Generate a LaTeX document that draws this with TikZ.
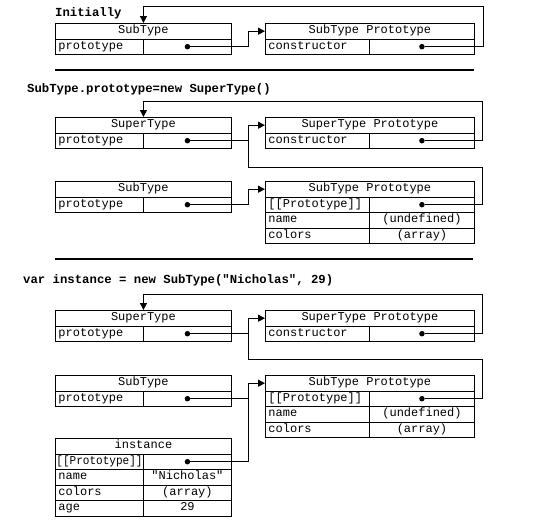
\documentclass[tikz,border=0pt]{standalone}
\usepackage{fontspec}
\usepackage{graphicx}
\usetikzlibrary{arrows.meta}
\newfontfamily\monoface{Liberation Mono}
\newcommand\codefont{\monoface\fontsize{12}{14}\selectfont}
\newcommand\codebold{\monoface\bfseries\fontsize{12.3}{14}\selectfont}
\tikzset{
  cell/.style={draw, line width=0.9pt, inner sep=0pt, minimum height=15.5pt, text height=8pt, text depth=2.5pt, font=\codefont, anchor=north west},
  hdrL/.style={cell, minimum width=176pt}, hdrR/.style={cell, minimum width=209pt},
  keyL/.style={cell, text width=82pt, inner xsep=3pt, align=left}, valL/.style={cell, minimum width=88pt},
  keyR/.style={cell, text width=98pt, inner xsep=3pt, align=left}, valR/.style={cell, minimum width=105pt},
  dot/.style={circle, fill, inner sep=0pt, minimum size=5.5pt},
  wire/.style={line width=0.9pt},
  ptr/.style={wire, -{Triangle[length=7pt, width=7pt]}},
  title/.style={font=\codebold, anchor=base west, inner sep=0pt},
  rule/.style={line width=1.1pt},
}

\begin{document}
\begin{tikzpicture}[x=1pt, y=-1pt]
    \useasboundingbox (0,0) rectangle (553,525);
    \coordinate (jx) at (248,0);
    % initially
    \node[title] (h1) at (55,16) {Initially};
    \node[hdrL] (st1h) at (55,23) {SubType};
    \node[keyL] (st1k) at (55,38.5) {prototype};
    \node[valL] (st1v) at (143,38.5) {};
    \node[dot] (d1) at (st1v.center) {};
    \node[hdrR] (sp1h) at (265,23) {SubType Prototype};
    \node[keyR] (sp1k) at (265,38.5) {constructor};
    \node[valR] (sp1v) at (369,38.5) {};
    \node[dot] (c1) at (sp1v.center) {};
    \coordinate (top1) at (483,6);
    \draw[ptr] (d1) -- (d1 -| jx) |- (sp1h.west);
    \draw[ptr] (c1) -| (top1) -| (st1h.north);
    \draw[rule] (55,70) -- (474,70);
    % SubType.prototype = new SuperType()
    \node[title] (h2) at (27,92) {SubType.prototype=new SuperType()};
    \node[hdrL] (su2h) at (55,117) {SuperType};
    \node[keyL] (su2k) at (55,132.5) {prototype};
    \node[valL] (su2v) at (143,132.5) {};
    \node[dot] (d2) at (su2v.center) {};
    \node[hdrR] (spp2h) at (265,117) {SuperType Prototype};
    \node[keyR] (spp2k) at (265,132.5) {constructor};
    \node[valR] (spp2v) at (369,132.5) {};
    \node[dot] (c2) at (spp2v.center) {};
    \node[hdrL] (sb2h) at (55,181) {SubType};
    \node[keyL] (sb2k) at (55,196.5) {prototype};
    \node[valL] (sb2v) at (143,196.5) {};
    \node[dot] (d3) at (sb2v.center) {};
    \node[hdrR] (sbp2h) at (265,181) {SubType Prototype};
    \node[keyR] (sbp2k) at (265,196.5) {[[Prototype]]};
    \node[valR] (sbp2v) at (369,196.5) {};
    \node[dot] (p2) at (sbp2v.center) {};
    \node[keyR] (sbp2n) at (265,212) {name};
    \node[valR] (sbp2nv) at (369,212) {(undefined)};
    \node[keyR] (sbp2c) at (265,227.5) {colors};
    \node[valR] (sbp2cv) at (369,227.5) {(array)};
    \coordinate (top2) at (482,101);
    \coordinate (low2) at (482,167);
    \draw[ptr] (d2) -- (d2 -| jx) |- (spp2h.west);
    \draw[wire] (p2) -| (low2) -| (d2 -| jx);
    \draw[ptr] (c2) -| (top2) -| (su2h.north);
    \draw[ptr] (d3) -- (d3 -| jx) |- (sbp2h.west);
    \draw[rule] (55,259) -- (473,259);
    % var instance = new SubType(...)
    \node[title] (h3) at (23,283) {var instance = new SubType("Nicholas", 29)};
    \node[hdrL] (su3h) at (55,310) {SuperType};
    \node[keyL] (su3k) at (55,325.5) {prototype};
    \node[valL] (su3v) at (143,325.5) {};
    \node[dot] (d4) at (su3v.center) {};
    \node[hdrR] (spp3h) at (265,310) {SuperType Prototype};
    \node[keyR] (spp3k) at (265,325.5) {constructor};
    \node[valR] (spp3v) at (369,325.5) {};
    \node[dot] (c3) at (spp3v.center) {};
    \node[hdrL] (sb3h) at (55,375) {SubType};
    \node[keyL] (sb3k) at (55,390.5) {prototype};
    \node[valL] (sb3v) at (143,390.5) {};
    \node[dot] (d5) at (sb3v.center) {};
    \node[hdrR] (sbp3h) at (265,375) {SubType Prototype};
    \node[keyR] (sbp3k) at (265,390.5) {[[Prototype]]};
    \node[valR] (sbp3v) at (369,390.5) {};
    \node[dot] (p3) at (sbp3v.center) {};
    \node[keyR] (sbp3n) at (265,406) {name};
    \node[valR] (sbp3nv) at (369,406) {(undefined)};
    \node[keyR] (sbp3c) at (265,421.5) {colors};
    \node[valR] (sbp3cv) at (369,421.5) {(array)};
    \node[hdrL] (in3h) at (55,438) {instance};
    \node[keyL, inner xsep=1pt, text width=86pt] (in3k) at (55,453.5) {\scalebox{0.92}[1]{[[Prototype]]}};
    \node[valL] (in3v) at (143,453.5) {};
    \node[dot] (i3) at (in3v.center) {};
    \node[keyL] (in3n) at (55,469) {name};
    \node[valL] (in3nv) at (143,469) {"Nicholas"};
    \node[keyL] (in3c) at (55,484.5) {colors};
    \node[valL] (in3cv) at (143,484.5) {(array)};
    \node[keyL] (in3a) at (55,500) {age};
    \node[valL] (in3av) at (143,500) {29};
    \coordinate (top3) at (482,294);
    \coordinate (low3) at (482,359);
    \draw[ptr] (d4) -- (d4 -| jx) |- (spp3h.west);
    \draw[wire] (p3) -| (low3) -| (d4 -| jx);
    \draw[ptr] (c3) -| (top3) -| (su3h.north);
    \draw[ptr] (d5) -- (d5 -| jx) |- (sbp3h.west);
    \draw[wire] (i3) -| (d5 -| jx);
  \end{tikzpicture}
\end{document}
